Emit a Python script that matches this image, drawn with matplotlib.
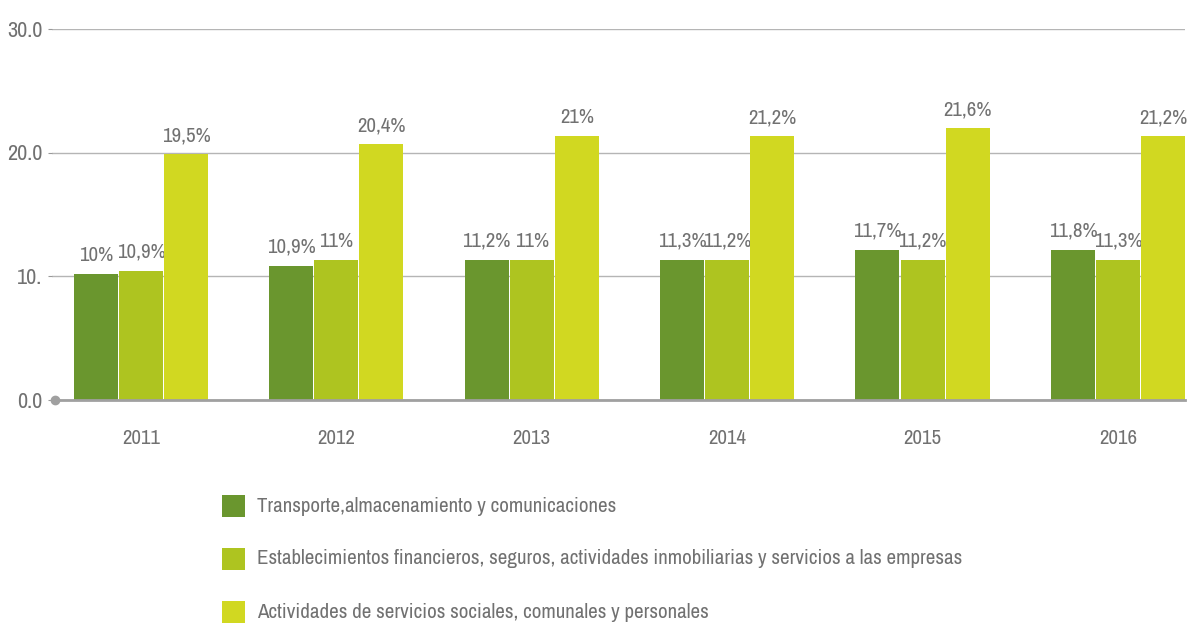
import matplotlib
matplotlib.use("Agg")
import matplotlib.pyplot as plt
from matplotlib.patches import Rectangle
import numpy as np

years = ["2011", "2012", "2013", "2014", "2015", "2016"]
series_names = [
    "Transporte,almacenamiento y comunicaciones",
    "Establecimientos financieros, seguros, actividades inmobiliarias y servicios a las empresas",
    "Actividades de servicios sociales, comunales y personales",
]
# bar heights as drawn in the reference
transporte = [10.15, 10.8, 11.3, 11.3, 12.1, 12.1]
financieros = [10.4, 11.3, 11.3, 11.3, 11.3, 11.3]
sociales = [19.85, 20.65, 21.3, 21.3, 21.95, 21.3]
# value labels as printed in the reference
transporte_lbl = ["10%", "10,9%", "11,2%", "11,3%", "11,7%", "11,8%"]
financieros_lbl = ["10,9%", "11%", "11%", "11,2%", "11,2%", "11,3%"]
sociales_lbl = ["19,5%", "20,4%", "21%", "21,2%", "21,6%", "21,2%"]
y_ticks = [0, 10, 20, 30]
y_tick_labels = ["0.0", "10.", "20.0", "30.0"]

colors = ["#6A962E", "#AEC420", "#D1D821"]
text_color = "#717171"

plt.rcParams['font.family'] = ['Archivo Narrow', 'Liberation Sans', 'DejaVu Sans']

W, H = 1193, 624
fig = plt.figure(figsize=(W / 100, H / 100), dpi=100)
ax = fig.add_axes([52 / W, 1 - 399.5 / H, (1185 - 52) / W, (399.5 - 29) / H])

x = np.arange(len(years))
bw = 0.225
step = 0.231
all_vals = [transporte, financieros, sociales]
all_lbls = [transporte_lbl, financieros_lbl, sociales_lbl]
for i, (vals, lbls) in enumerate(zip(all_vals, all_lbls)):
    pos = x + (i - 1) * step
    bars = ax.bar(pos, vals, width=bw, color=colors[i], zorder=3)
    for b, l in zip(bars, lbls):
        ax.annotate(l, (b.get_x() + b.get_width() / 2, b.get_height()),
                    xytext=(0, 9.5), textcoords="offset points",
                    ha="center", va="baseline", fontsize=15, color=text_color)

ax.set_xlim(-0.455, 5.343)
ax.set_ylim(0, 30)
ax.set_yticks(y_ticks)
ax.set_yticklabels(y_tick_labels)
ax.set_xticks(x)
ax.set_xticklabels(years)
ax.tick_params(axis='y', length=3, color="#999999", labelsize=16,
               labelcolor=text_color, pad=4)
ax.tick_params(axis='x', length=0, labelsize=15, labelcolor=text_color, pad=21)

ax.grid(axis='y', color="#B5B5B5", linewidth=1, zorder=0)
ax.set_axisbelow(True)
for s in ["top", "right", "left"]:
    ax.spines[s].set_visible(False)
ax.spines["bottom"].set_color("#A0A0A0")
ax.spines["bottom"].set_linewidth(2)
ax.spines["bottom"].set_zorder(4)
ax.plot([-0.44], [0], marker="o", markersize=6, color="#A0A0A0",
        clip_on=False, zorder=5)

# legend
leg_y = [506, 559, 612]
for i, name in enumerate(series_names):
    yc = leg_y[i]
    fig.patches.append(Rectangle((222 / W, 1 - (yc + 11) / H), 23 / W, 22 / H,
                                 transform=fig.transFigure, facecolor=colors[i],
                                 edgecolor="none"))
    fig.text(257 / W, 1 - yc / H, name, ha="left", va="center",
             fontsize=15.1, color=text_color)

fig.savefig("out.png", dpi=100)
